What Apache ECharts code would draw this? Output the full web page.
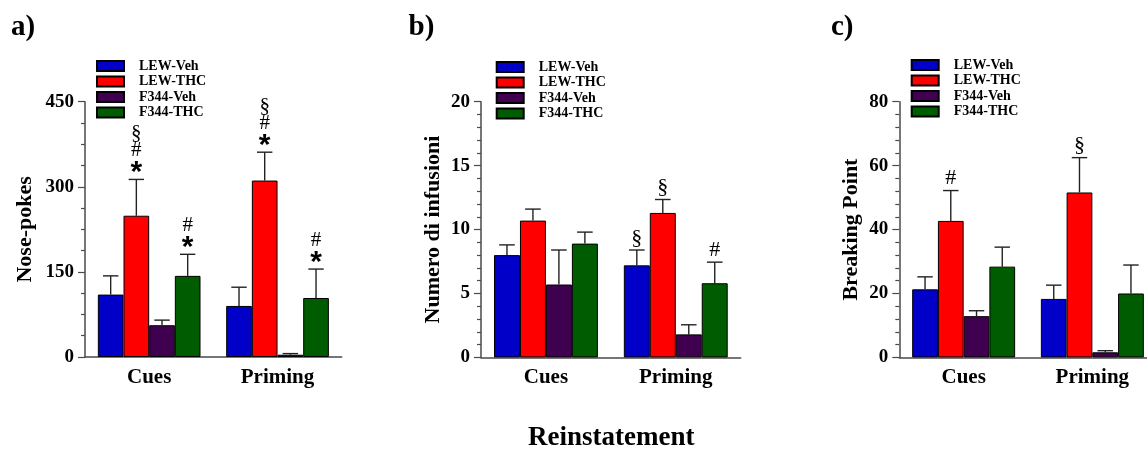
<!DOCTYPE html>
<html>
<head>
<meta charset="utf-8">
<title>Reinstatement</title>
<script src="https://cdn.jsdelivr.net/npm/echarts@6/dist/echarts.min.js"></script>
<style>
  html, body { margin: 0; padding: 0; background: #fff; overflow: hidden; }
  /* the right-hand panel runs past the window edge, so the canvas is a bit wider */
  #chart { width: 1170px; height: 455px; }
</style>
</head>
<body>
<div id="chart"></div>
<script>
// Shared categories and groups
const categories = ['Cues', 'Priming'];
const groups = ['LEW-Veh', 'LEW-THC', 'F344-Veh', 'F344-THC'];
const groupColors = ['#0000C8', '#FF0000', '#400050', '#005C00'];

// a) Nose-pokes: mean and SEM per group, [Cues, Priming]
const nosePokesTicks = [0, 150, 300, 450];
const nosePokesMean = [[110, 90], [249, 311], [56, 4], [143, 104]];
const nosePokesSem = [[33, 33], [64, 50], [9, 2], [38, 51]];
const nosePokesMarks = [['', ''], ['§#*', '§#*'], ['', ''], ['#*', '#*']];

// b) Numero di infusioni
const infusionsTicks = [0, 5, 10, 15, 20];
const infusionsMean = [[8.0, 7.2], [10.7, 11.3], [5.7, 1.8], [8.9, 5.8]];
const infusionsSem = [[0.8, 1.2], [0.9, 1.05], [2.7, 0.75], [0.9, 1.65]];
const infusionsMarks = [['', '§'], ['', '§'], ['', ''], ['', '#']];

// c) Breaking Point
const breakingTicks = [0, 20, 40, 60, 80];
const breakingMean = [[21.3, 18.3], [42.7, 51.6], [12.9, 1.6], [28.4, 20.0]];
const breakingSem = [[3.9, 4.3], [9.5, 10.9], [1.7, 0.5], [6.1, 8.9]];
const breakingMarks = [['', ''], ['#', '§'], ['', ''], ['', '']];

const SERIF = '"Liberation Serif", "Times New Roman", serif';
const AXIS_COLOR = '#4a4a4a';

const panels = [
  { letter: 'a)', letterLeft: 6, name: 'Nose-pokes', nameGap: 48.5,
    grid: { left: 85, top: 101.7, width: 256.7, height: 255.3 },
    legend: { left: 91, top: 54 },
    ticks: nosePokesTicks, minorSplit: 4,
    mean: nosePokesMean, sem: nosePokesSem, marks: nosePokesMarks, markSize: 21, markStep: 17 },
  { letter: 'b)', letterLeft: 403.5, name: 'Numero di infusioni', nameGap: 36.5,
    grid: { left: 481, top: 101.7, width: 259.7, height: 255.7 },
    legend: { left: 490.7, top: 55 },
    ticks: infusionsTicks, minorSplit: 5,
    mean: infusionsMean, sem: infusionsSem, marks: infusionsMarks, markSize: 22, markStep: 19 },
  { letter: 'c)', letterLeft: 826, name: 'Breaking Point', nameGap: 36.5,
    grid: { left: 899.3, top: 101.7, width: 257.4, height: 255.7 },
    legend: { left: 905.7, top: 53 },
    ticks: breakingTicks, minorSplit: 5,
    mean: breakingMean, sem: breakingSem, marks: breakingMarks, markSize: 22, markStep: 19 }
];

const BAR_CATEGORY_GAP = 0.2;

function errorBarRenderer(panel) {
  return function (params, api) {
    const c = api.value(0);
    const g = api.value(1);
    const base = api.coord([c, api.value(2)]);
    const top = api.coord([c, api.value(3)]);
    const band = api.size([1, 0])[0];
    const bw = band * (1 - BAR_CATEGORY_GAP) / groups.length;
    const x = base[0] + (g - (groups.length - 1) / 2) * bw;
    const capHalf = bw * 0.3;
    const stroke = { stroke: '#222', lineWidth: 1.4 };
    const children = [
      { type: 'line', shape: { x1: x, y1: base[1], x2: x, y2: top[1] }, style: stroke },
      { type: 'line', shape: { x1: x - capHalf, y1: top[1], x2: x + capHalf, y2: top[1] }, style: stroke }
    ];
    // significance symbols stacked above the cap, read top to bottom
    const marks = panel.marks[g][c];
    const fs = panel.markSize;
    let y = top[1] - 1;
    for (let k = marks.length - 1; k >= 0; k--) {
      const ch = marks[k];
      const isStar = ch === '*';
      children.push({
        type: 'text',
        style: {
          text: ch,
          x: x,
          y: isStar ? y + fs * 0.45 : y,
          align: 'center',
          verticalAlign: 'bottom',
          font: isStar ? ('bold ' + Math.round(fs * 1.45) + 'px "Liberation Sans", Arial, sans-serif')
                       : (fs + 'px ' + SERIF),
          fill: '#000'
        }
      });
      y -= panel.markStep;
    }
    return { type: 'group', children: children };
  };
}

const titles = panels.map(p => ({
  text: p.letter, left: p.letterLeft, top: 8,
  textStyle: { fontFamily: SERIF, fontWeight: 'bold', fontSize: 29, color: '#000' }
}));
titles.push({
  text: 'Reinstatement', left: 523, top: 420,
  textStyle: { fontFamily: SERIF, fontWeight: 'bold', fontSize: 27, color: '#000' }
});

const series = [];
panels.forEach((p, i) => {
  groups.forEach((name, g) => {
    series.push({
      type: 'bar', name: name, xAxisIndex: i, yAxisIndex: i,
      data: p.mean[g],
      barGap: '0%', barCategoryGap: (BAR_CATEGORY_GAP * 100) + '%',
      itemStyle: { color: groupColors[g], borderColor: '#000', borderWidth: 1 },
      emphasis: { disabled: true },
      animation: false
    });
  });
  const errData = [];
  groups.forEach((name, g) => {
    categories.forEach((cat, c) => {
      errData.push([c, g, p.mean[g][c], p.mean[g][c] + p.sem[g][c]]);
    });
  });
  series.push({
    type: 'custom', xAxisIndex: i, yAxisIndex: i,
    renderItem: errorBarRenderer(p),
    data: errData,
    encode: { x: 0, y: [2, 3] },
    clip: false, silent: true, animation: false, z: 5
  });
});

const option = {
  backgroundColor: '#fff',
  animation: false,
  title: titles,
  legend: panels.map(p => ({
    left: p.legend.left, top: p.legend.top, orient: 'vertical',
    icon: 'rect', itemWidth: 27, itemHeight: 10, itemGap: 1.5,
    selectedMode: false,
    data: groups,
    textStyle: { fontFamily: SERIF, fontWeight: 'bold', fontSize: 14, color: '#000', padding: [0, 0, 0, 10] }
  })),
  grid: panels.map(p => Object.assign({ containLabel: false }, p.grid)),
  xAxis: panels.map((p, i) => ({
    type: 'category', gridIndex: i, data: categories,
    axisLine: { lineStyle: { color: AXIS_COLOR, width: 1.5 } },
    axisTick: { show: false },
    axisLabel: { fontFamily: SERIF, fontWeight: 'bold', fontSize: 21, color: '#000', margin: 10 }
  })),
  yAxis: panels.map((p, i) => ({
    type: 'value', gridIndex: i,
    min: p.ticks[0], max: p.ticks[p.ticks.length - 1], interval: p.ticks[1] - p.ticks[0],
    name: p.name, nameLocation: 'middle', nameGap: p.nameGap,
    nameTextStyle: { fontFamily: SERIF, fontWeight: 'bold', fontSize: 22, color: '#000' },
    splitLine: { show: false },
    axisLine: { show: true, lineStyle: { color: AXIS_COLOR, width: 1.5 } },
    axisTick: { show: true, length: 7, lineStyle: { color: AXIS_COLOR, width: 1.2 } },
    minorTick: { show: true, splitNumber: p.minorSplit, length: 4, lineStyle: { color: AXIS_COLOR, width: 1.2 } },
    axisLabel: { fontFamily: SERIF, fontWeight: 'bold', fontSize: 19, color: '#000', margin: 11 }
  })),
  series: series
};

const chart = echarts.init(document.getElementById('chart'), null, { renderer: 'canvas' });
chart.setOption(option);
</script>
</body>
</html>
